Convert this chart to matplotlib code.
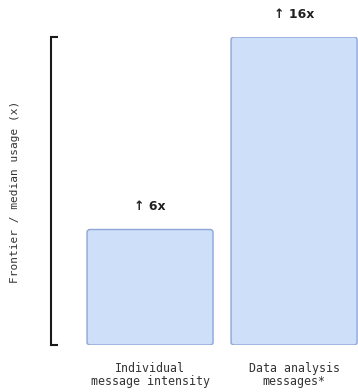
import matplotlib.pyplot as plt
from matplotlib.patches import FancyBboxPatch

categories = ['Individual\nmessage intensity', 'Data analysis\nmessages*']
values = [6, 16]
value_labels = ['↑ 6x', '↑ 16x']

fig = plt.figure(figsize=(3.58, 3.92), dpi=100)
ax = fig.add_axes([0.1425, 0.1199, 0.8575, 0.7857])

x = list(range(len(values)))
bars = ax.bar(x, values, width=0.875, color='none', edgecolor='none')

# rounded versions of the bars
for b in bars:
    patch = FancyBboxPatch((b.get_x(), b.get_y()), b.get_width(), b.get_height(),
                           boxstyle='round,pad=0,rounding_size=0.02',
                           mutation_aspect=16 / 2.13 * 307 / 308,
                           facecolor='#cddff9', edgecolor='#8ea5d6', linewidth=1.0)
    ax.add_patch(patch)

for xi, v, lab in zip(x, values, value_labels):
    ax.annotate(lab, (xi, v), xytext=(0, 23), textcoords='offset pixels',
                ha='center', va='center', fontsize=9, fontweight='bold',
                family='DejaVu Sans', color='#222222')

ax.set_xlim(-0.6875, 1.444)
ax.set_ylim(0, 16)

ax.spines['top'].set_visible(False)
ax.spines['right'].set_visible(False)
ax.spines['bottom'].set_visible(False)
ax.spines['left'].set_linewidth(1.5)
ax.spines['left'].set_color('#1a1a1a')

ax.set_yticks([0, 16])
ax.set_yticklabels([])
ax.tick_params(axis='y', direction='in', length=5, width=1.5, color='#1a1a1a')

ax.set_xticks(x)
ax.set_xticklabels(categories, family='DejaVu Sans Mono', fontsize=8.4, color='#333333',
                   linespacing=1.0)
ax.tick_params(axis='x', length=0, pad=12)

fig.text(0.042, 0.51, 'Frontier / median usage (x)', rotation=90, ha='center', va='center',
         family='DejaVu Sans Mono', fontsize=8.0, color='#333333')

fig.savefig('out.png', dpi=100)
